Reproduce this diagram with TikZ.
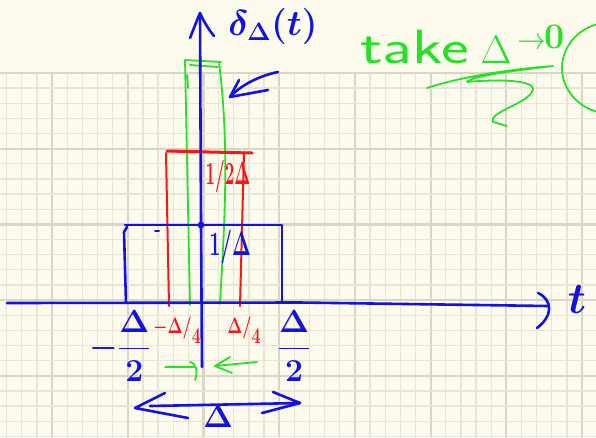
\RequirePackage{fix-cm}
\documentclass[tikz,border=0pt]{standalone}
\usepackage{amsmath}
\usepackage{graphicx}
\definecolor{paper}{RGB}{253,251,237}
\definecolor{gridc}{RGB}{232,228,214}
\definecolor{gridd}{RGB}{218,213,197}
\definecolor{pen}{RGB}{18,18,228}
\definecolor{redpen}{RGB}{250,22,22}
\definecolor{greenpen}{RGB}{38,226,38}
\begin{document}
\begin{tikzpicture}[x=1pt,y=-1pt,line cap=round,line join=round,
  bluepen/.style={draw=pen,line width=2.6pt},
  redline/.style={draw=redpen,line width=2pt},
  greenline/.style={draw=greenpen,line width=1.8pt},
  lbl/.style={inner sep=0pt,outer sep=0pt}]
\useasboundingbox (0,0) rectangle (596,437);
\fill[paper] (0,0) rectangle (596,437);
% grid paper
\begin{scope}
\clip (0,72) rectangle (596,437);
\foreach \k in {0,...,39} {
  \pgfmathsetmacro\xx{6.7+15.14*\k}
  \pgfmathtruncatemacro\m{mod(\k,5)}
  \ifnum\m=3
    \draw[gridd,line width=2.2pt] (\xx,72) -- (\xx,437);
  \else
    \draw[gridc,line width=1.3pt] (\xx,72) -- (\xx,437);
  \fi
}
\foreach \j in {0,...,24} {
  \pgfmathsetmacro\yy{73+15.14*\j}
  \pgfmathtruncatemacro\m{mod(\j,5)}
  \ifnum\m=0
    \draw[gridd,line width=2.2pt] (0,\yy) -- (596,\yy);
  \else
    \draw[gridc,line width=1.3pt] (0,\yy) -- (596,\yy);
  \fi
}
\end{scope}

% green narrow tall box
\draw[greenline] (190,305) -- (185,60) -- (221,62);
\draw[greenline] (190,65) -- (218,67);
\draw[greenline] (187,75) -- (188,88);
\draw[greenline] (219,62) .. controls (230,150) and (224,230) .. (220,304);

% red box
\draw[redline] (169,306) -- (166,153);
\draw[redline,line width=3pt] (167,151) -- (252,153);
\draw[redline] (244,152) -- (240,306);

% blue box
\draw[bluepen] (126,303) -- (124,232) -- (127,227);
\draw[bluepen] (125,225) -- (282,225) -- (282,303);
\fill[pen] (201,225) circle (3.4);
\draw[bluepen,line width=2pt] (155,231) -- (159,231);

% axes
\draw[bluepen] (200,15) -- (201,225) -- (202,367);
\draw[bluepen] (190,38) .. controls (194,28) and (197,20) .. (200,13) .. controls (204,22) and (209,30) .. (214,36);
\draw[bluepen] (7,303) -- (300,302.5) -- (548,306);
\draw[bluepen] (538,293) .. controls (553,300) and (553,316) .. (537,328);

% pointer to green box
\draw[bluepen] (278,72) .. controls (258,76) and (240,86) .. (230,97);
\draw[bluepen] (239,80) -- (230,97) -- (268,90);

% bottom arrows
\draw[greenline] (165,367) -- (194,367);
\draw[greenline] (190,362) .. controls (197,364) and (198,372) .. (195,380);
\draw[greenline] (257,362) -- (215,366);
\draw[greenline] (230,357) -- (215,366) -- (232,373);
\draw[bluepen] (150,406) -- (300,403);
\draw[bluepen] (165,393) -- (135,408) -- (188,418);
\draw[bluepen] (273,392) -- (300,403) -- (262,413);

% labels
\node[lbl,text=pen,font=\fontsize{36}{36}\selectfont\boldmath] (dlabel) at (273,26) {$\delta_\Delta(t)$};
\node[lbl,text=pen,font=\fontsize{44}{44}\selectfont\boldmath] (tlabel) at (577,300) {$t$};
\node[lbl,text=pen,font=\fontsize{20}{20}\selectfont\boldmath] (hlabel) at (230,247) {\scalebox{1}[1.7]{$1/\Delta$}};
\node[lbl,text=redpen,font=\fontsize{17}{17}\selectfont\boldmath] (rlabel) at (228,176) {\scalebox{1}[1.9]{$1/2\Delta$}};
\node[lbl,text=pen,font=\fontsize{32}{32}\selectfont\boldmath] (lneg) at (120,346) {$-\dfrac{\Delta}{2}$};
\node[lbl,text=pen,font=\fontsize{32}{32}\selectfont\boldmath] (lpos) at (294,346) {$\dfrac{\Delta}{2}$};
\node[lbl,text=redpen,font=\fontsize{16}{16}\selectfont\boldmath] (rneg) at (177,330)
  {\scalebox{1}[1.4]{$-\Delta/\raisebox{-7pt}{$4$}$}};
\node[lbl,text=redpen,font=\fontsize{16}{16}\selectfont\boldmath] (rpos) at (244,330)
  {\scalebox{1}[1.4]{$\Delta/\raisebox{-7pt}{$4$}$}};
\node[lbl,text=pen,font=\fontsize{32}{32}\selectfont\boldmath] (width) at (218,417) {$\Delta$};
\node[lbl,text=greenpen,anchor=base west,font=\fontsize{48}{48}\selectfont] (take) at (360,63)
  {\scalebox{1.38}[1]{\textsf{take}}\hspace{12pt}{\fontsize{40}{40}\selectfont$\Delta$}\hspace{6pt}\raisebox{14pt}{\scalebox{1.2}[1.3]{\fontsize{24}{24}\selectfont$\to$}}\hspace{-2pt}\raisebox{15pt}{\fontsize{36}{36}\selectfont\bfseries 0}};

% green scribble and arc
\draw[greenline] (427,88) .. controls (470,74) and (525,68) .. (553,66)
  .. controls (520,70) and (470,76) .. (467,82)
  .. controls (485,80) and (535,78) .. (533,90)
  .. controls (528,104) and (488,112) .. (493,122) -- (507,126);
\begin{scope}
\clip (0,0) rectangle (596,437);
\draw[greenline] (612,68) ellipse [x radius=50, y radius=46];
\end{scope}
\end{tikzpicture}
\end{document}
